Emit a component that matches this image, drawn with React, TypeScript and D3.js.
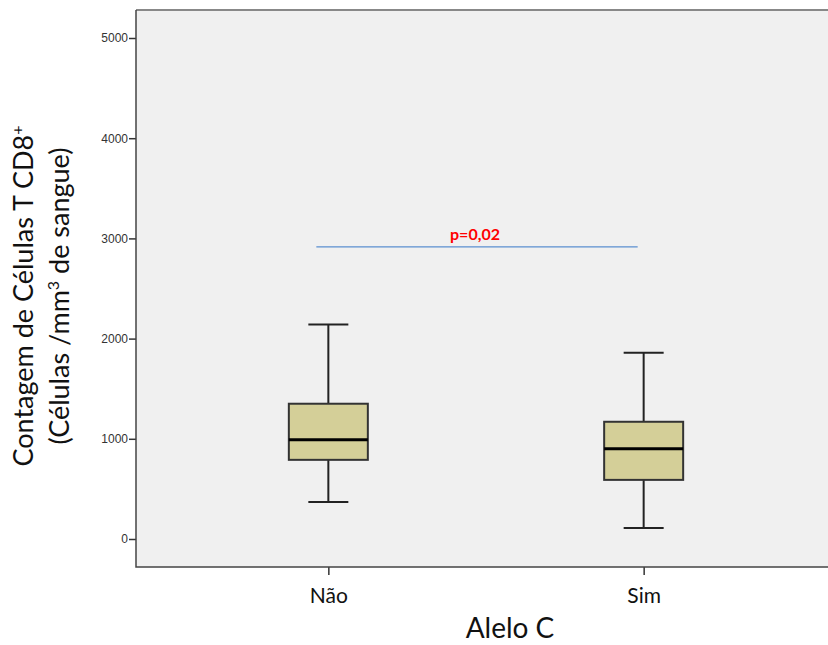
import React, { useEffect, useRef } from "react";
import * as d3 from "d3";

// values (cells / mm3)
const groups = ["Não", "Sim"];
const whiskerLow = [370, 110];
const q1 = [790, 590];
const median = [990, 900];
const q3 = [1350, 1170];
const whiskerHigh = [2140, 1860];
const yTicks = [0, 1000, 2000, 3000, 4000, 5000];
const pLineValue = 2915;
const pLabel = "p=0,02";

const App = () => {
  const svgRef = useRef<SVGSVGElement>(null);

  useEffect(() => {
    document.body.style.margin = "0";
    document.body.style.overflow = "hidden";
    const svg = d3.select(svgRef.current);
    svg.selectAll("*").remove();

    const left = 136;
    const top = 10;
    const bottom = 567;
    const right = 836;

    const x = d3.scalePoint().domain(groups).range([left, right]).padding(0.61);
    const y = d3.scaleLinear().domain([0, 5000]).range([539, 38]);

    // plot background
    svg
      .append("rect")
      .attr("x", left)
      .attr("y", top)
      .attr("width", right - left)
      .attr("height", bottom - top)
      .attr("fill", "#f0f0f0");

    svg
      .append("line")
      .attr("x1", left)
      .attr("x2", right)
      .attr("y1", top)
      .attr("y2", top)
      .attr("stroke", "#888")
      .attr("stroke-width", 2);

    // y axis
    const yAxis = d3
      .axisLeft(y)
      .tickValues(yTicks)
      .tickFormat(d3.format("d"))
      .tickSize(7)
      .tickPadding(1);
    const gy = svg.append("g").attr("transform", `translate(${left},0)`).call(yAxis);
    gy.select(".domain").remove();
    gy.selectAll(".tick line").attr("stroke", "#333").attr("stroke-width", 1.5);
    gy.selectAll(".tick text")
      .attr("fill", "#333")
      .attr("font-family", "Arial, Liberation Sans, sans-serif")
      .attr("font-size", 12);

    // x axis
    const xAxis = d3.axisBottom(x).tickSize(8).tickPadding(13);
    const gx = svg.append("g").attr("transform", `translate(0,${bottom})`).call(xAxis);
    gx.select(".domain").remove();
    gx.selectAll(".tick line").attr("stroke", "#333").attr("stroke-width", 1.5);
    gx.selectAll(".tick text")
      .attr("fill", "#111")
      .attr("font-family", "Lato, sans-serif")
      .attr("font-size", 21);

    // frame left and bottom
    svg
      .append("path")
      .attr("d", `M${left},${top}V${bottom}H${right}`)
      .attr("fill", "none")
      .attr("stroke", "#444")
      .attr("stroke-width", 1.5);

    // boxes
    const boxW = 79;
    const capW = 40;
    groups.forEach((g, i) => {
      const cx = x(g) as number;
      const gBox = svg.append("g").attr("stroke", "#222").attr("stroke-width", 2);
      gBox
        .append("line")
        .attr("x1", cx)
        .attr("x2", cx)
        .attr("y1", y(whiskerHigh[i]))
        .attr("y2", y(q3[i]));
      gBox
        .append("line")
        .attr("x1", cx)
        .attr("x2", cx)
        .attr("y1", y(q1[i]))
        .attr("y2", y(whiskerLow[i]));
      [whiskerHigh[i], whiskerLow[i]].forEach((v) => {
        gBox
          .append("line")
          .attr("x1", cx - capW / 2)
          .attr("x2", cx + capW / 2)
          .attr("y1", y(v))
          .attr("y2", y(v));
      });
      gBox
        .append("rect")
        .attr("x", cx - boxW / 2)
        .attr("y", y(q3[i]))
        .attr("width", boxW)
        .attr("height", y(q1[i]) - y(q3[i]))
        .attr("fill", "#d4cf98")
        .attr("stroke", "#333");
      gBox
        .append("line")
        .attr("x1", cx - boxW / 2)
        .attr("x2", cx + boxW / 2)
        .attr("y1", y(median[i]))
        .attr("y2", y(median[i]))
        .attr("stroke", "#000")
        .attr("stroke-width", 3);
    });

    // significance line
    const x0 = (x(groups[0]) as number) - 12;
    const x1 = (x(groups[1]) as number) - 6;
    svg
      .append("line")
      .attr("x1", x0)
      .attr("x2", x1)
      .attr("y1", y(pLineValue))
      .attr("y2", y(pLineValue))
      .attr("stroke", "#5b8fd0")
      .attr("stroke-width", 1.2);
    svg
      .append("text")
      .attr("x", 475)
      .attr("y", y(pLineValue) - 7)
      .attr("text-anchor", "middle")
      .attr("fill", "#ff0000")
      .attr("font-family", "Lato, sans-serif")
      .attr("font-weight", "bold")
      .attr("font-size", 16)
      .text(pLabel);

    // axis titles
    svg
      .append("text")
      .attr("x", 510)
      .attr("y", 638)
      .attr("text-anchor", "middle")
      .attr("fill", "#111")
      .attr("font-family", "Lato, sans-serif")
      .attr("font-size", 28)
      .text("Alelo C");

    const yt = svg
      .append("text")
      .attr("transform", "translate(0,296) rotate(-90)")
      .attr("text-anchor", "middle")
      .attr("fill", "#111")
      .attr("font-family", "Lato, sans-serif")
      .attr("font-size", 27);
    const l1 = yt.append("tspan").attr("x", 0).attr("y", 33);
    l1.append("tspan").text("Contagem de Células T CD8");
    l1.append("tspan").attr("font-size", 16).attr("dy", -10).text("+");
    const l2 = yt.append("tspan").attr("x", 0).attr("y", 69);
    l2.append("tspan").text("(Células /mm");
    l2.append("tspan").attr("font-size", 16).attr("dy", -10).text("3");
    l2.append("tspan").attr("dy", 10).text(" de sangue)");
  }, []);

  return (
    <div>
      <svg ref={svgRef} width={828} height={645} style={{ display: "block" }}></svg>
    </div>
  );
};

export default App;
